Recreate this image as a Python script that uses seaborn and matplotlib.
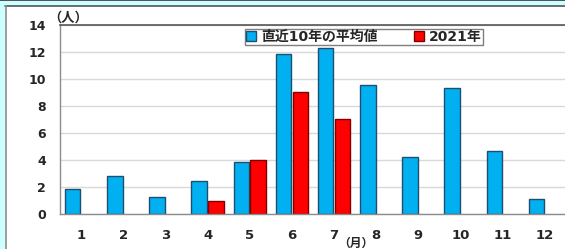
import numpy as np
import pandas as pd
import seaborn as sns
import matplotlib.pyplot as plt
from matplotlib.patches import Rectangle
from matplotlib.lines import Line2D

# data
months = [str(m) for m in range(1, 13)]
avg_10yr = [1.85, 2.8, 1.25, 2.45, 3.85, 11.85, 12.3, 9.55, 4.2, 9.35, 4.65, 1.1]
y2021 = [np.nan, np.nan, np.nan, 1, 4, 9, 7, np.nan, np.nan, np.nan, np.nan, np.nan]
series = ["直近10年の平均値", "2021年"]
yticks = [0, 2, 4, 6, 8, 10, 12, 14]

df = pd.DataFrame({
    "month": months * 2,
    "value": avg_10yr + y2021,
    "series": [series[0]] * 12 + [series[1]] * 12,
})

sns.set_theme(style="white")
plt.rcParams['font.family'] = ['DejaVu Sans', 'Noto Sans CJK JP']
plt.rcParams['font.weight'] = 'bold'

W, H = 565, 249
fig = plt.figure(figsize=(W / 100, H / 100), dpi=100)
ax = fig.add_axes([60 / W, (H - 214) / H, 506 / W, (214 - 25) / H])

fills = {series[0]: "#00B0F0", series[1]: "#FF0000"}
edges = {series[0]: "#1F4E6E", series[1]: "#800000"}
sns.barplot(data=df, x="month", y="value", hue="series", hue_order=series,
            order=months, palette=fills, saturation=1, width=0.8, gap=0.08, ax=ax,
            linewidth=1, legend=False)

# per-series edge colours
for cont, s in zip(ax.containers, series):
    for p in cont:
        p.set_edgecolor(edges[s])

ax.set_ylim(0, 14)
ax.set_xlim(-0.5, 11.5)
ax.set_yticks(yticks)
ax.set_yticklabels([str(t) for t in yticks], fontsize=9, fontweight='bold')
ax.set_xticklabels(months, fontsize=9.5, fontweight='bold')
ax.tick_params(axis='y', length=0, pad=10)
ax.tick_params(axis='x', length=0, pad=11)
ax.set_xlabel("")
ax.set_ylabel("")
ax.yaxis.grid(True, color="#D9D9D9", linewidth=1)
ax.set_axisbelow(True)
for side in ["left", "bottom"]:
    ax.spines[side].set_color("#8C8C8C")
    ax.spines[side].set_linewidth(1)
ax.spines["top"].set_color("#555555")
ax.spines["top"].set_linewidth(1.2)
ax.spines["right"].set_visible(False)

# legend
handles = [Rectangle((0, 0), 1, 1, facecolor=fills[s], edgecolor=edges[s], linewidth=1)
           for s in series]
leg = ax.legend(handles, series, loc="center", bbox_to_anchor=(364 / W, 1 - 37 / H),
                bbox_transform=fig.transFigure, ncol=2,
                prop={'weight': 'bold', 'size': 10},
                handlelength=0.7, handleheight=0.7, handletextpad=0.4,
                columnspacing=2.6, borderpad=0.05, borderaxespad=0, frameon=True,
                fancybox=False, framealpha=1, edgecolor="#7F7F7F")
leg.get_frame().set_linewidth(1)

# axis unit labels
fig.text(68 / W, 1 - 18 / H, "（人）", ha="center", va="center", fontsize=9.5, fontweight='bold')
fig.text(356 / W, 1 - 237 / H, "（月）", ha="center", va="top", fontsize=8.5, fontweight='bold')

# outer frame: cyan strips and dark lines
fig.add_artist(Rectangle((0, 1 - 6 / H), 1, 5 / H, transform=fig.transFigure,
                         facecolor="#CCFFFF", edgecolor="none"))
fig.add_artist(Rectangle((0, 0), 5 / W, 1, transform=fig.transFigure,
                         facecolor="#CCFFFF", edgecolor="none"))
fig.add_artist(Line2D([0, 1], [1 - 0.5 / H, 1 - 0.5 / H], transform=fig.transFigure,
                      color="#333333", linewidth=1.2))
fig.add_artist(Line2D([5 / W, 1], [1 - 6 / H, 1 - 6 / H], transform=fig.transFigure,
                      color="#555555", linewidth=1.2))
fig.add_artist(Line2D([5.5 / W, 5.5 / W], [0, 1 - 6 / H], transform=fig.transFigure,
                      color="#8C8C8C", linewidth=1.2))

fig.savefig("out.png", dpi=100)
